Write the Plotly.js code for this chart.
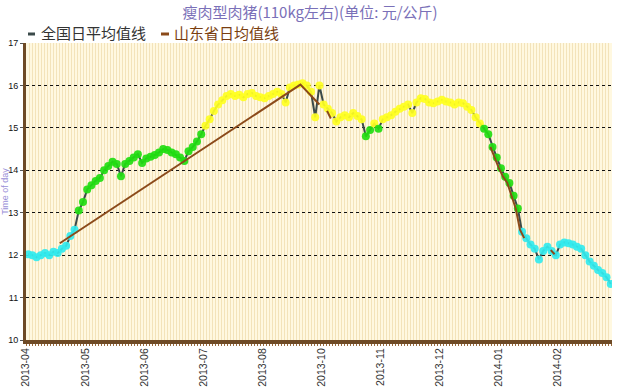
<!DOCTYPE html>
<html><head><meta charset="utf-8">
<script src="https://cdn.plot.ly/plotly-3.0.1.min.js"></script>
<style>html,body{margin:0;padding:0;background:#fff}#c{width:620px;height:388px}</style>
</head><body><div id="c"></div>
<script>
// tick labels (one every 14 observations)
const tickLabels = ["2013-04","2013-05","2013-06","2013-07","2013-08","2013-10","2013-11","2013-12","2014-01","2014-02"];
const tickIdx = [0,14,28,42,56,70,84,98,112,126];
// legend labels
const seriesNames = ["全国日平均值线","山东省日均值线"];
// national daily average (yuan/kg), one per observation
const nationalVal = [
 12.02,12.00,11.95,12.00,12.05,12.00,12.08,12.05,12.15,12.22,
 12.45,12.60,13.05,13.25,13.55,13.65,13.75,13.82,14.00,14.10,
 14.20,14.15,13.86,14.15,14.22,14.30,14.38,14.17,14.28,14.32,
 14.36,14.42,14.50,14.48,14.42,14.38,14.30,14.22,14.45,14.55,
 14.68,14.85,15.05,15.20,15.40,15.55,15.65,15.75,15.80,15.75,
 15.78,15.72,15.80,15.82,15.75,15.72,15.70,15.75,15.80,15.85,
 15.80,15.60,15.95,16.00,16.02,16.05,16.00,15.85,15.25,16.00,
 15.55,15.45,15.35,15.15,15.25,15.30,15.25,15.35,15.28,15.20,
 14.80,14.95,15.10,14.98,15.20,15.25,15.30,15.38,15.45,15.50,
 15.55,15.35,15.60,15.70,15.68,15.60,15.58,15.62,15.66,15.62,
 15.60,15.55,15.60,15.58,15.50,15.42,15.25,15.10,14.98,14.85,
 14.55,14.30,14.05,13.85,13.70,13.40,13.10,12.55,12.40,12.25,
 12.15,11.90,12.10,12.20,12.10,12.00,12.25,12.30,12.28,12.25,
 12.20,12.15,12.00,11.85,11.75,11.65,11.58,11.48,11.32
];
// Shandong daily average: observation index and value (null breaks the line)
const shandongIdx = [8, 65, 69.5, 70, 71.3, 72.2, 72.5, 110, 111, 112, 113, 114, 115, 116, 117, 118, 118.5, 124.3, 125.2];
const shandongVal = [12.28, 16.02, 15.55, null, 15.4, 15.22, null, 14.55, 14.3, 14.05, 13.85, 13.7, 13.4, 13.1, 12.6, 12.4, null, 12.12, 12.02];

const nationalIdx = nationalVal.map((v,i)=>i+0.5);
const colorOf = v => v >= 15 ? '#ffff22' : (v >= 12.85 ? '#22dd11' : '#33eaee');

const lineCol = '#3b4a4a', brown = '#8b4a1a';
const data = [
 {x: nationalIdx, y: nationalVal, mode:'lines', line:{color:lineCol, width:2}, showlegend:false, hoverinfo:'skip'},
 {x: nationalIdx, y: nationalVal, mode:'markers', marker:{size:8, color: nationalVal.map(colorOf), opacity:0.92, line:{width:0}}, showlegend:false},
 {x: shandongIdx, y: shandongVal, mode:'lines', line:{color:brown, width:2}, showlegend:false, connectgaps:false}
];

// pixel -> paper helpers for the header legend
const L=26, R=8, T=43, B=48, W=620, H=388;
const px = p => (p - L) / (W - L - R);
const py = p => (H - B - p) / (H - T - B);

const layout = {
 width:W, height:H,
 margin:{l:L, r:R, t:T, b:B},
 paper_bgcolor:'#ffffff', plot_bgcolor:'#fff8e0',
 title:{text:'瘦肉型肉猪(110kg左右)(单位: 元/公斤)', x:0.5, xanchor:'center', y:0.968, yanchor:'middle',
   font:{family:'Noto Sans CJK SC', size:15, color:'#7a70b8'}},
 showlegend:false,
 shapes:[
  {type:'line', xref:'paper', yref:'paper', x0:px(28), x1:px(35), y0:py(34), y1:py(34), line:{color:lineCol, width:3}},
  {type:'line', xref:'paper', yref:'paper', x0:px(161), x1:px(169), y0:py(34), y1:py(34), line:{color:brown, width:3}}
 ],
 annotations:[
  {text:seriesNames[0], xref:'paper', yref:'paper', x:px(39), y:py(33), xanchor:'left', yanchor:'middle', showarrow:false,
   font:{family:'Noto Sans CJK SC', size:15, color:'#333'}},
  {text:seriesNames[1], xref:'paper', yref:'paper', x:px(172), y:py(33), xanchor:'left', yanchor:'middle', showarrow:false,
   font:{family:'Noto Sans CJK SC', size:15, color:'#7a3e10'}}
 ],
 xaxis:{range:[0,138.8], tickmode:'array', tickvals:tickIdx, ticktext:tickLabels, tickangle:-90,
   tickfont:{family:'Liberation Sans', size:10.5, color:'#333'}, ticks:'', showgrid:false, zeroline:false,
   showline:true, linecolor:'#6e4a26', linewidth:4,
   minor:{tickmode:'linear', tick0:0, dtick:138.8*3/586, showgrid:true, gridcolor:'#f3e3ba', gridwidth:1,
     ticks:'outside', ticklen:2, tickcolor:'#9a6a3a', tickwidth:1}},
 yaxis:{range:[10,17], tickmode:'linear', tick0:10, dtick:1, showgrid:true, gridcolor:'#111', griddash:'dot', gridwidth:1,
   zeroline:false, showline:true, linecolor:'#6e4a26', linewidth:3, ticks:'outside', ticklen:3, tickcolor:'#555',
   tickfont:{family:'Liberation Sans', size:9, color:'#111'},
   title:{text:'Time of day', font:{family:'Liberation Sans', size:9, color:'#9a90d8'}, standoff:6}}
};
Plotly.newPlot('c', data, layout, {displayModeBar:false, staticPlot:true});
</script></body></html>
